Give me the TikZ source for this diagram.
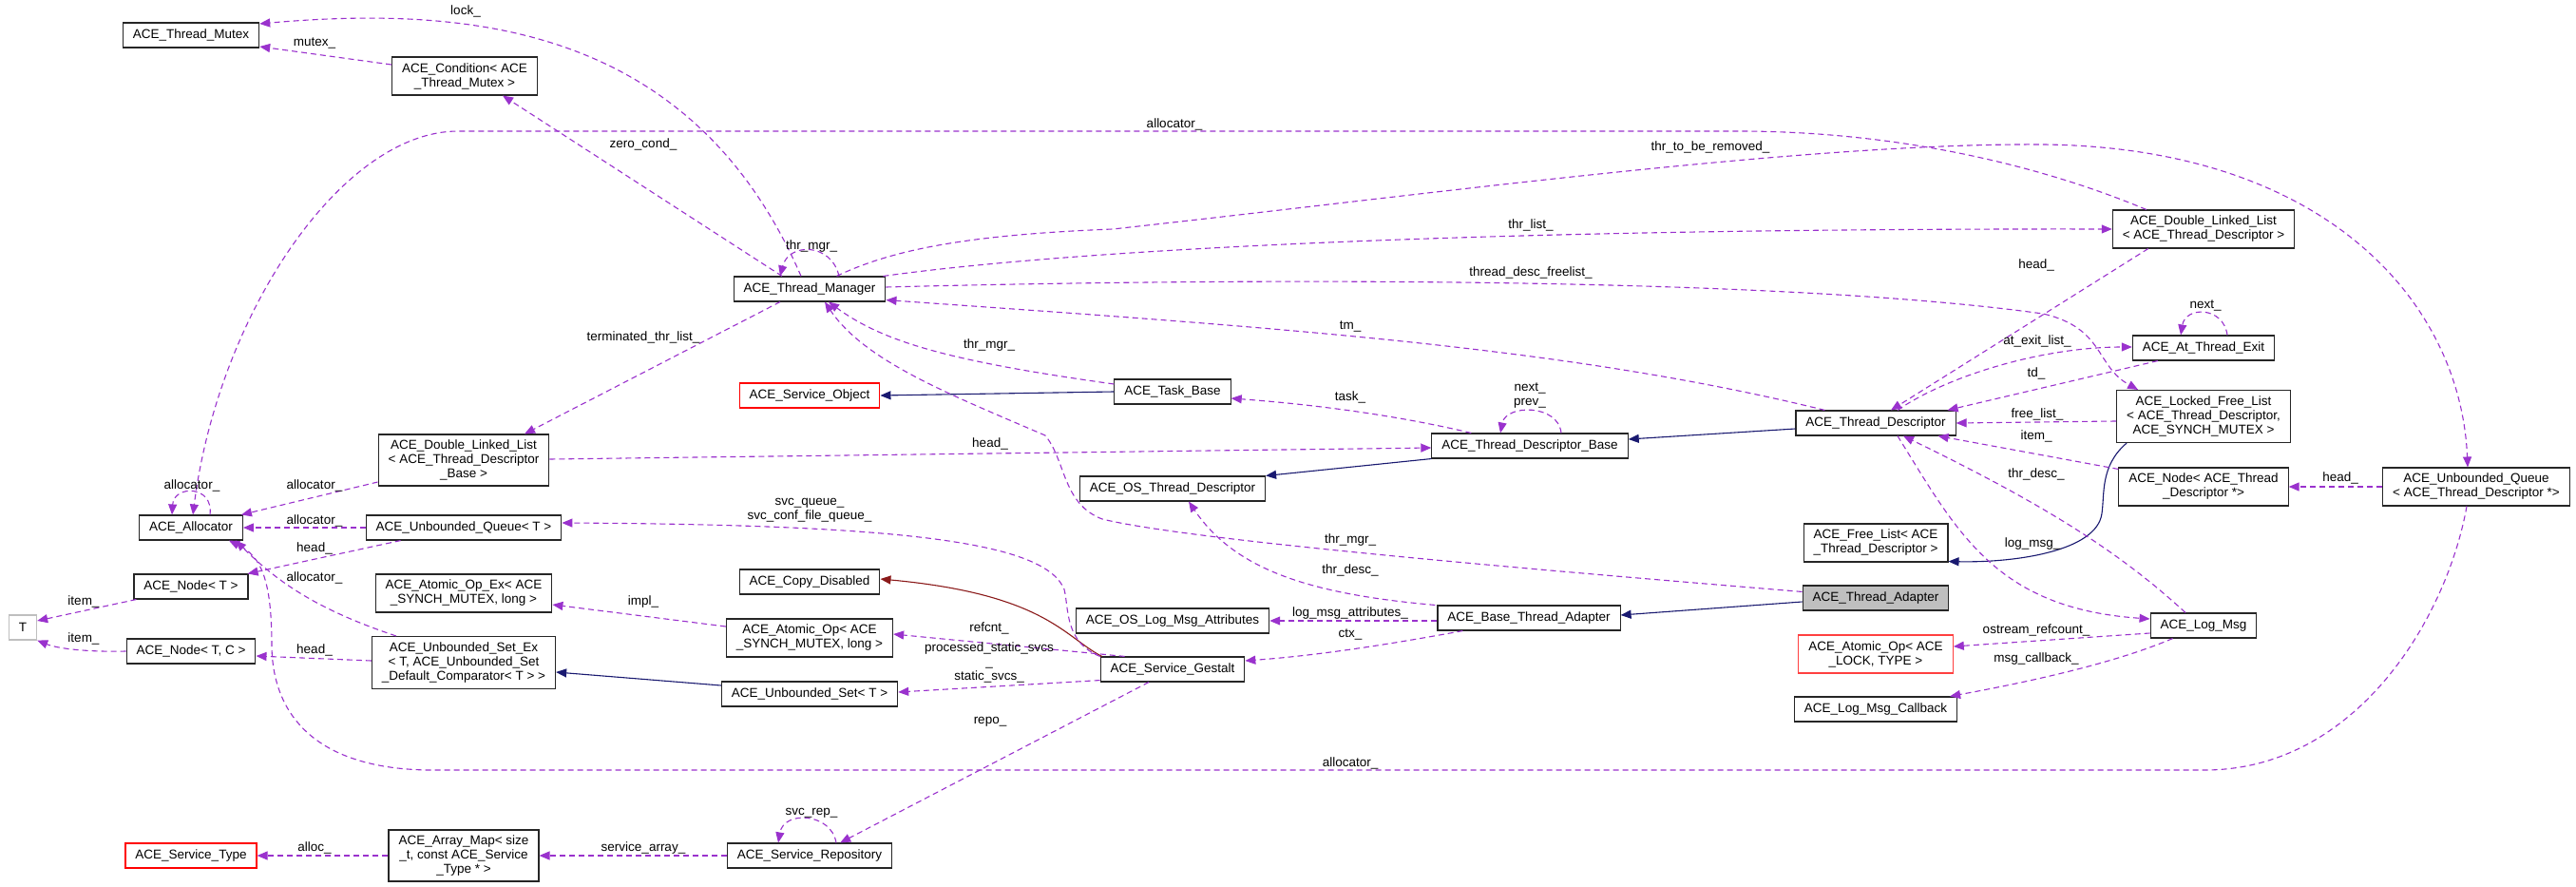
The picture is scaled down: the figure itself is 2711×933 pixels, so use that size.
\documentclass[tikz,border=0pt]{standalone}
\usepackage{fontspec}
\setmainfont{Liberation Sans}
\usetikzlibrary{backgrounds}
\usetikzlibrary{calc,arrows.meta}
\definecolor{usecol}{HTML}{9A32CD}
\definecolor{inhcol}{HTML}{191970}
\definecolor{privcol}{HTML}{8B1A1A}
\definecolor{tgray}{HTML}{BFBFBF}
\newcommand{\dxfont}{\fontsize{13.5}{15}\selectfont}

\begin{document}
\begin{tikzpicture}[
    x=1pt, y=-1pt,
    show background rectangle,
    inner frame sep=0pt,
    background rectangle/.style={fill=white},
    cls/.style={draw=black!85, line width=1.1pt, fill=white, inner xsep=10.5pt,
        inner ysep=2pt, minimum height=26pt, align=center, font=\dxfont},
    usage/.style={draw=usecol, line width=1.1pt, dash pattern=on 6pt off 4pt,
        -{Triangle[length=11pt,width=9pt]}},
    inherit/.style={draw=inhcol, line width=1.1pt, -{Triangle[length=11pt,width=9pt]}},
    privinh/.style={draw=privcol, line width=1.1pt, -{Triangle[length=11pt,width=9pt]}},
    edgelbl/.style={font=\dxfont, inner sep=0pt, align=center},
 ]
    \useasboundingbox (0,0) rectangle (2711,933);

    % classes
    \node[cls] (Mutex) at (201,37) {ACE\_Thread\_Mutex};
    \node[cls,minimum height=40pt] (Cond) at (489,80) {ACE\_Condition< ACE\\\_Thread\_Mutex >};
    \node[cls,minimum height=54pt] (DLLB) at (488,484) {ACE\_Double\_Linked\_List\\< ACE\_Thread\_Descriptor\\\_Base >};
    \node[cls] (Alloc) at (201,555) {ACE\_Allocator};
    \node[cls] (UQT) at (488,555) {ACE\_Unbounded\_Queue< T >};
    \node[cls] (NodeT) at (201,617) {ACE\_Node< T >};
    \node[cls,draw=tgray] (T) at (24,660) {T};
    \node[cls] (NodeTC) at (201,685) {ACE\_Node< T, C >};
    \node[cls,minimum height=40pt] (AOpEx) at (488,624) {ACE\_Atomic\_Op\_Ex< ACE\\\_SYNCH\_MUTEX, long >};
    \node[cls,minimum height=55pt] (USEx) at (488,697) {ACE\_Unbounded\_Set\_Ex\\< T, ACE\_Unbounded\_Set\\\_Default\_Comparator< T > >};
    \node[cls,draw=red] (SType) at (201,900) {ACE\_Service\_Type};
    \node[cls,minimum height=54pt] (AMap) at (488,900) {ACE\_Array\_Map< size\\\_t, const ACE\_Service\\\_Type * >};
    \node[cls] (TM) at (852,304) {ACE\_Thread\_Manager};
    \node[cls,draw=red] (SO) at (852,416) {ACE\_Service\_Object};
    \node[cls] (TB) at (1234,412) {ACE\_Task\_Base};
    \node[cls] (OSTD) at (1234,514) {ACE\_OS\_Thread\_Descriptor};
    \node[cls] (CD) at (852,612) {ACE\_Copy\_Disabled};
    \node[cls,minimum height=40pt] (AOp) at (852,671) {ACE\_Atomic\_Op< ACE\\\_SYNCH\_MUTEX, long >};
    \node[cls] (USet) at (852,730) {ACE\_Unbounded\_Set< T >};
    \node[cls] (OSLMA) at (1234,653) {ACE\_OS\_Log\_Msg\_Attributes};
    \node[cls] (SG) at (1234,704) {ACE\_Service\_Gestalt};
    \node[cls] (SRep) at (852,900) {ACE\_Service\_Repository};
    \node[cls] (TD) at (1974,445) {ACE\_Thread\_Descriptor};
    \node[cls] (TDB) at (1610,469) {ACE\_Thread\_Descriptor\_Base};
    \node[cls,minimum height=40pt] (FL) at (1974,571) {ACE\_Free\_List< ACE\\\_Thread\_Descriptor >};
    \node[cls,fill=tgray] (TA) at (1974,629) {ACE\_Thread\_Adapter};
    \node[cls] (BTA) at (1609,650) {ACE\_Base\_Thread\_Adapter};
    \node[cls,draw=red!75,minimum height=40pt] (AOpL) at (1974,688) {ACE\_Atomic\_Op< ACE\\\_LOCK, TYPE >};
    \node[cls] (MLC) at (1974,746) {ACE\_Log\_Msg\_Callback};
    \node[cls,minimum height=40pt] (DLLT) at (2319,241) {ACE\_Double\_Linked\_List\\< ACE\_Thread\_Descriptor >};
    \node[cls] (ATE) at (2319,366) {ACE\_At\_Thread\_Exit};
    \node[cls,minimum height=55pt] (LFL) at (2319,438) {ACE\_Locked\_Free\_List\\< ACE\_Thread\_Descriptor,\\ACE\_SYNCH\_MUTEX >};
    \node[cls,minimum height=40pt] (NTD) at (2319,512) {ACE\_Node< ACE\_Thread\\\_Descriptor *>};
    \node[cls,minimum height=40pt] (UQTD) at (2606,512) {ACE\_Unbounded\_Queue\\< ACE\_Thread\_Descriptor *>};
    \node[cls] (LM) at (2319,658) {ACE\_Log\_Msg};

    % inheritance
    \draw[inherit] ($(USet.west)+(0,-9)$) -- ($(USEx.east)+(0,10)$);
    \draw[inherit] (TB.west) -- (SO.east);
    \draw[inherit] (TDB.south west) -- (OSTD.north east);
    \draw[inherit] ($(TD.west)+(0,6)$) -- ($(TDB.east)+(0,-7)$);
    \draw[inherit] ($(TA.west)+(0,4)$) -- ($(BTA.east)+(0,-3)$);
    \draw[inherit] ($(LFL.south west)+(11,0)$) .. controls (2210,490) and (2215,520) .. (2212,540)
        .. controls (2207,580) and (2120,592) .. ($(FL.south east)+(0,-1)$);
    \draw[privinh] ($(SG.north west)+(2,0)$) .. controls (1120,670) and (1100,625) .. ($(CD.east)+(0,-3)$);

    % members
    \draw[usage] ($(TM.north)+(-9,0)$) .. controls (730,30) and (500,5) .. ($(Mutex.east)+(0,-12)$);
    \draw[usage] ($(Cond.west)+(0,-12)$) -- ($(Mutex.east)+(0,12)$);
    \draw[usage] ($(TM.north)+(-29,0)$) -- ($(Cond.south)+(40,0)$);
    \draw[usage] ($(TM.south)+(-31,0)$) -- ($(DLLB.north)+(64,0)$);
    \draw[usage] ($(DLLT.north west)+(36,0)$) .. controls (2150,175) and (2000,138) .. (1829,138)
        -- (482,138) .. controls (360,138) and (230,330) .. ($(Alloc.north)+(2,0)$);
    \draw[usage] ($(TM.north east)+(-52,0)$) .. controls (940,262) and (1020,247) .. (1171,241)
        .. controls (1500,205) and (1900,150) .. (2150,152)
        .. controls (2450,155) and (2590,320) .. ($(UQTD.north)+(-9,0)$);
    \draw[usage] ($(TM.north east)+(-3,0)$) .. controls (1150,260) and (1600,240) .. (DLLT.west);
    \draw[usage] ($(TM.east)+(0,-2)$) .. controls (1400,290) and (1900,295) .. (2150,330)
        .. controls (2215,345) and (2205,385) .. ($(LFL.north west)+(23,0)$);
    \draw[usage] ($(TD.north west)+(31,0)$) .. controls (1650,365) and (1350,345) .. ($(TM.south east)+(0,-2)$);
    \draw[usage] ($(TB.west)+(0,-8)$) .. controls (1000,380) and (930,360) .. ($(TM.south)+(20,0)$);
    \draw[usage] ($(TA.north west)+(0,7)$) .. controls (1600,598) and (1250,568) .. (1160,546)
        .. controls (1118,530) and (1122,485) .. (1100,458)
        .. controls (1000,415) and (910,380) .. ($(TM.south)+(16,0)$);
    \draw[usage] ($(TM.north)+(31,0)$) .. controls (875,255) and (830,255) .. ($(TM.north)+(-31,0)$);
    \draw[usage] ($(DLLB.east)+(0,-1)$) -- ($(TDB.west)+(0,2)$);
    \draw[usage] ($(TDB.north west)+(42,0)$) .. controls (1450,432) and (1350,423) .. ($(TB.east)+(0,7)$);
    \draw[usage] ($(TDB.north)+(33,0)$) .. controls (1640,425) and (1585,425) .. ($(TDB.north)+(-31,0)$);
    \draw[usage] ($(Alloc.north)+(20,0)$) .. controls (225,510) and (183,510) .. ($(Alloc.north)+(-20,0)$);
    \draw[usage] ($(DLLB.west)+(0,23)$) -- ($(Alloc.north east)+(-2,0)$);
    \draw[usage] (UQT.west) -- (Alloc.east);
    \draw[usage] ($(UQT.south west)+(37,0)$) -- ($(NodeT.north east)+(-1,0)$);
    \draw[usage] ($(USEx.north west)+(26,0)$) .. controls (330,640) and (290,610) .. ($(Alloc.south east)+(-8,0)$);
    \draw[usage] ($(NodeT.south west)+(3,0)$) -- ($(T.east)+(0,-7)$);
    \draw[usage] (NodeTC.west) .. controls (90,686) and (60,682) .. (T.south east);
    \draw[usage] ($(USEx.west)+(0,-2)$) -- ($(NodeTC.east)+(0,5)$);
    \draw[usage] (AMap.west) -- (SType.east);
    \draw[usage] (SRep.west) -- (AMap.east);
    \draw[usage] ($(AOp.west)+(0,-12)$) -- ($(AOpEx.east)+(0,12)$);
    \draw[usage] (SG.north west) .. controls (1120,675) and (1125,640) .. (1120,620)
        .. controls (1100,570) and (950,552) .. ($(UQT.east)+(0,-5)$);
    \draw[usage] ($(SG.north west)+(26,0)$) -- ($(AOp.east)+(0,-4)$);
    \draw[usage] ($(SG.south west)+(0,-2)$) -- ($(USet.east)+(0,-2)$);
    \draw[usage] ($(SG.south)+(-25,0)$) -- ($(SRep.north east)+(-55,0)$);
    \draw[usage] ($(SRep.north)+(28,0)$) .. controls (875,855) and (825,852) .. ($(SRep.north)+(-33,0)$);
    \draw[usage] ($(BTA.west)+(0,3)$) -- (OSLMA.east);
    \draw[usage] ($(BTA.south west)+(27,0)$) .. controls (1450,680) and (1380,690) .. ($(SG.east)+(0,-9)$);
    \draw[usage] ($(BTA.north west)+(-2,0)$) .. controls (1380,625) and (1300,600) .. ($(OSTD.south)+(17,0)$);
    \draw[usage] ($(DLLT.south west)+(38,0)$) -- ($(TD.north)+(16,0)$);
    \draw[usage] ($(TD.north)+(23,0)$) .. controls (2050,395) and (2150,365) .. ($(ATE.west)+(0,-1)$);
    \draw[usage] ($(ATE.south west)+(27,0)$) -- ($(TD.north east)+(-9,0)$);
    \draw[usage] ($(LFL.west)+(0,5)$) -- (TD.east);
    \draw[usage] ($(NTD.north west)+(0,2)$) -- ($(TD.south east)+(-19,0)$);
    \draw[usage] ($(LM.north)+(-19,0)$) .. controls (2230,580) and (2150,530) .. ($(TD.south)+(29,0)$);
    \draw[usage] ($(TD.south)+(23,0)$) .. controls (2060,560) and (2100,640) .. ($(LM.west)+(0,-7)$);
    \draw[usage] ($(LM.west)+(0,8)$) -- ($(AOpL.east)+(0,-8)$);
    \draw[usage] ($(LM.south west)+(24,0)$) .. controls (2220,700) and (2120,720) .. ($(MLC.north east)+(-8,0)$);
    \draw[usage] ($(ATE.north)+(25,0)$) .. controls (2340,322) and (2300,322) .. ($(ATE.north)+(-24,0)$);
    \draw[usage] (UQTD.west) -- (NTD.east);
    \draw[usage] ($(UQTD.south)+(-10,0)$) .. controls (2575,650) and (2480,810) .. (2320,810)
        -- (450,810) .. controls (330,808) and (287,750) .. (286,680)
        .. controls (286,610) and (275,585) .. ($(Alloc.south east)+(-15,0)$);

    % member names
    \node[edgelbl] (lLock) at (490,12) {lock\_};
    \node[edgelbl] (lMutex) at (331,45) {mutex\_};
    \node[edgelbl] (lZero) at (677,152) {zero\_cond\_};
    \node[edgelbl] (lTerm) at (677,355) {terminated\_thr\_list\_};
    \node[edgelbl] (lAllocT) at (1236,131) {allocator\_};
    \node[edgelbl] (lRemove) at (1800,155) {thr\_to\_be\_removed\_};
    \node[edgelbl] (lList) at (1611,237) {thr\_list\_};
    \node[edgelbl] (lFree) at (1611,287) {thread\_desc\_freelist\_};
    \node[edgelbl] (lTm) at (1421,343) {tm\_};
    \node[edgelbl] (lMgrTB) at (1041,363) {thr\_mgr\_};
    \node[edgelbl] (lMgrTA) at (1421,568) {thr\_mgr\_};
    \node[edgelbl] (lMgrTM) at (854,259) {thr\_mgr\_};
    \node[edgelbl] (lHeadB) at (1042,467) {head\_};
    \node[edgelbl] (lTask) at (1421,418) {task\_};
    \node[edgelbl] (lNext) at (1610,416) {next\_\\prev\_};
    \node[edgelbl] (lAllocA) at (202,511) {allocator\_};
    \node[edgelbl] (lAllocB) at (331,511) {allocator\_};
    \node[edgelbl] (lAllocQ) at (331,548) {allocator\_};
    \node[edgelbl] (lHeadQ) at (331,577) {head\_};
    \node[edgelbl] (lAllocS) at (331,608) {allocator\_};
    \node[edgelbl] (lItemA) at (88,633) {item\_};
    \node[edgelbl] (lItemB) at (88,672) {item\_};
    \node[edgelbl] (lHeadS) at (331,684) {head\_};
    \node[edgelbl] (lAllocM) at (331,892) {alloc\_};
    \node[edgelbl] (lSvcArr) at (677,892) {service\_array\_};
    \node[edgelbl] (lImpl) at (677,633) {impl\_};
    \node[edgelbl] (lSvcQ) at (852,537) {svc\_queue\_\\svc\_conf\_file\_queue\_};
    \node[edgelbl] (lRefcnt) at (1041,661) {refcnt\_};
    \node[edgelbl] (lStatic) at (1041,697) {processed\_static\_svcs\\\_\\static\_svcs\_};
    \node[edgelbl] (lRepo) at (1042,759) {repo\_};
    \node[edgelbl] (lSvcRep) at (854,855) {svc\_rep\_};
    \node[edgelbl] (lAttr) at (1421,645) {log\_msg\_attributes\_};
    \node[edgelbl] (lCtx) at (1421,667) {ctx\_};
    \node[edgelbl] (lDescB) at (1421,600) {thr\_desc\_};
    \node[edgelbl] (lHeadT) at (2143,279) {head\_};
    \node[edgelbl] (lExit) at (2144,359) {at\_exit\_list\_};
    \node[edgelbl] (lTd) at (2143,393) {td\_};
    \node[edgelbl] (lFreeL) at (2144,436) {free\_list\_};
    \node[edgelbl] (lItemT) at (2143,459) {item\_};
    \node[edgelbl] (lDescL) at (2143,499) {thr\_desc\_};
    \node[edgelbl] (lLogMsg) at (2139,572) {log\_msg\_};
    \node[edgelbl] (lOstream) at (2143,663) {ostream\_refcount\_};
    \node[edgelbl] (lCallback) at (2143,693) {msg\_callback\_};
    \node[edgelbl] (lNextE) at (2321,321) {next\_};
    \node[edgelbl] (lHeadU) at (2463,503) {head\_};
    \node[edgelbl] (lAllocU) at (1421,803) {allocator\_};
\end{tikzpicture}
\end{document}
